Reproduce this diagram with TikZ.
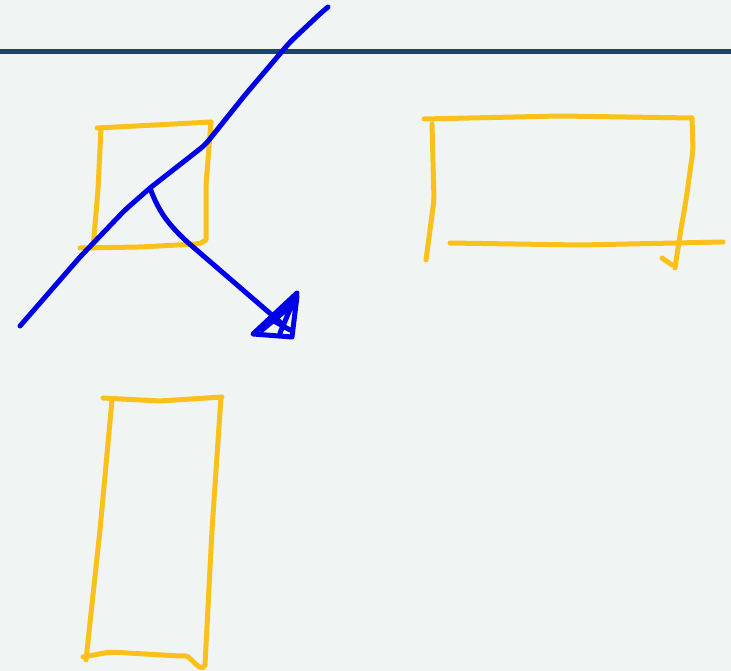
\documentclass[tikz,border=0pt]{standalone}
\usetikzlibrary{arrows.meta}
\definecolor{paper}{HTML}{F0F4F3}
\definecolor{rule}{HTML}{1E4466}
\definecolor{marker}{HTML}{FBC11B}
\definecolor{pen}{HTML}{0000E6}
\tikzset{
  hand/.style={line width=5pt, line cap=round, line join=round, rounded corners=6pt},
  ybox/.style={hand, draw=marker},
  bline/.style={hand, draw=pen}
}
\begin{document}
\begin{tikzpicture}[x=1pt, y=-1pt]
% page
\fill[paper] (0,0) rectangle (731,671);
\useasboundingbox (0,0) rectangle (731,671);
\draw[rule, line width=5pt] (0,52) -- (731,52);

% small square
\draw[ybox] (97,128) -- (155,125) -- (211,122);
\draw[ybox] (211,122) -- (206,185) -- (206,234) to[out=270,in=0] (196,244);
\draw[ybox] (80,248) -- (140,247) -- (196,244);
\draw[ybox] (101,128) -- (98,190) -- (93,248);

% wide box on the right
\draw[ybox] (424,119) -- (560,116) -- (692,118);
\draw[ybox] (692,118) -- (693,150) -- (686,200) -- (680,235) -- (675,268);
\draw[ybox] (662,258) -- (672,265);
\draw[ybox] (432,124) -- (434,200) -- (426,260);
\draw[ybox] (450,243) -- (580,245) -- (723,242);

% tall box
\draw[ybox] (103,398) -- (160,401) -- (222,397);
\draw[ybox] (112,400) -- (100,530) -- (86,660);
\draw[ybox] (221,397) -- (212,530) -- (205,665);
\draw[ybox] (83,657) -- (110,652) -- (180,656) to[out=0,in=250] (205,665);

% blue stroke and arrow
\draw[bline] (20,326) -- (80,257) -- (125,210) -- (150,188) -- (205,145)
  -- (245,95) -- (290,42) -- (322,12) -- (328,7);
\draw[bline] (150,188) to[out=290,in=135] (185,240) -- (280,322);
\draw[bline, rounded corners=0pt] (297,293) -- (253,334) -- (292,337) -- (297,296)
  (272,320) -- (290,330) (262,330) -- (292,305) (280,333) -- (294,300);
\end{tikzpicture}
\end{document}
